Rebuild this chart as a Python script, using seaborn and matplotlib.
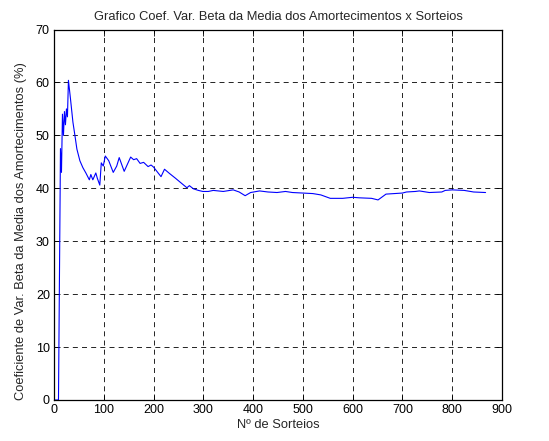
import matplotlib
matplotlib.use("Agg")
import matplotlib.pyplot as plt
import seaborn as sns
import pandas as pd

sorteios = [1, 9, 13, 15, 17, 19, 21, 23, 25, 27, 29, 33, 38, 42, 46, 52, 58, 64,
            71, 74, 78, 84, 87, 92, 95, 99, 103, 110, 119, 126, 131, 141, 154,
            160, 166, 173, 180, 189, 195, 200, 210, 215, 222, 232, 244, 258, 267,
            272, 280, 290, 299, 310, 320, 340, 360, 372, 384, 395, 413, 430, 448,
            465, 479, 500, 520, 536, 555, 580, 600, 613, 638, 651, 667, 700, 708,
            726, 734, 754, 779, 786, 800, 824, 843, 867]
coef_var = [0, 0, 47.5, 43.0, 54.0, 50.0, 54.5, 52.0, 55.0, 53.5, 60.4, 57.0,
            52.5, 50.0, 47.4, 45.2, 43.9, 42.9, 41.6, 42.6, 41.6, 42.9, 41.9,
            40.6, 44.8, 44.2, 46.1, 45.2, 43.0, 44.2, 45.8, 43.2, 45.9, 45.4,
            45.6, 44.7, 44.9, 44.1, 44.4, 44.0, 42.8, 42.2, 43.6, 42.8, 41.9,
            40.8, 40.1, 40.5, 39.9, 39.6, 39.4, 39.4, 39.6, 39.4, 39.7, 39.3,
            38.6, 39.2, 39.5, 39.3, 39.2, 39.4, 39.2, 39.1, 39.0, 38.75, 38.1,
            38.1, 38.3, 38.2, 38.1, 37.8, 38.9, 39.1, 39.3, 39.4, 39.5, 39.2,
            39.3, 39.6, 39.7, 39.6, 39.3, 39.2]

x_ticks = [0, 100, 200, 300, 400, 500, 600, 700, 800, 900]
y_ticks = [0, 10, 20, 30, 40, 50, 60, 70]

df = pd.DataFrame({"n": sorteios, "cv": coef_var})

sns.set_style("white")
plt.rcParams["font.family"] = ["Liberation Sans", "DejaVu Sans"]

fig = plt.figure(figsize=(5.49, 4.41), dpi=100)
ax = fig.add_axes([54 / 549, 41 / 441, 448 / 549, 370.5 / 441])

sns.lineplot(data=df, x="n", y="cv", ax=ax, color=(0, 0, 1), linewidth=0.8,
             estimator=None, sort=False)

ax.set_xlim(0, 900)
ax.set_ylim(0, 70)
ax.set_xticks(x_ticks)
ax.set_yticks(y_ticks)
ax.tick_params(direction="in", length=4, width=0.6, labelsize=9, colors="black",
               top=True, right=True, bottom=True, left=True, pad=3)
ax.grid(True, color="black", linestyle=(0, (6, 5)), linewidth=0.6)
for s in ax.spines.values():
    s.set_visible(True)
    s.set_color("black")
    s.set_linewidth(0.9)

ax.set_title("Grafico Coef. Var. Beta da Media dos Amortecimentos x Sorteios",
             fontsize=9.3, pad=7)
ax.set_xlabel("Nº de Sorteios", fontsize=9.3, labelpad=2)
ax.set_ylabel("Coeficiente de Var. Beta da Media dos Amortecimentos (%)",
              fontsize=9.3)
ax.yaxis.set_label_coords(-0.06, 0.455)

fig.savefig("out.png", dpi=100, facecolor="white")
